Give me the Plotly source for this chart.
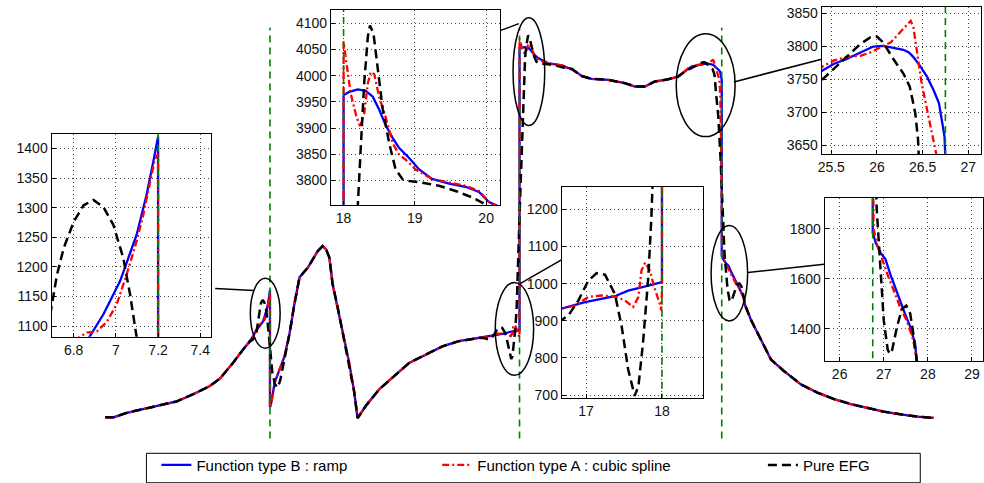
import plotly.graph_objects as go

# ---------------- data ----------------
interfaces = [7.2, 18.0, 26.75]

# shared parts of the curve (all three methods coincide)
common0_x = [0.07, 0.43, 1.0, 1.72, 2.44, 3.16, 3.88, 4.6, 5.03, 5.6, 6.03, 6.32]
common0_y = [86, 86, 132, 173, 207, 252, 328, 415, 491, 657, 795, 881]

after72a_x = [7.26, 7.4, 7.61, 7.83]
after72a_y = [240, 449, 588, 726]

after72b_x = [8.05, 8.26, 8.48, 8.84, 9.27, 9.48, 9.63, 9.77, 9.91, 10.13, 10.27, 10.63, 10.85, 10.99]
after72b_y = [968, 1279, 1556, 1659, 1832, 1884, 1849, 1763, 1486, 1244, 1071, 656, 345, 76]

common1_x = [11.35, 11.93, 12.5, 13.22, 13.94, 14.66, 15.37, 16.09]
common1_y = [207, 380, 501, 656, 743, 830, 885, 915]

plateau_x = [20.26, 20.69, 21.12, 21.84, 22.56, 22.99, 23.42, 23.85, 24.43, 24.86, 25.14]
plateau_y = [3745, 3670, 3640, 3630, 3595, 3560, 3560, 3612, 3636, 3664, 3716]

tail_x = [28.02, 28.45, 28.88, 29.45, 30.17, 30.89, 31.61, 32.33, 33.05, 33.76, 34.48, 35.2, 35.92]
tail_y = [1106, 899, 692, 570, 432, 345, 277, 225, 183, 145, 117, 93, 80]

# Function type B : ramp
blue1_x = [6.5, 6.61, 6.75, 6.875, 6.941, 7.02, 7.098, 7.145, 7.177, 7.196, 7.2, 7.2]
blue1_y = [950, 1003, 1045, 1082, 1120, 1176, 1254, 1321, 1377, 1417, 1420, 190]
blue2_x = [16.4, 16.68, 16.987, 17.38, 17.555, 17.73, 17.86, 17.983, 18.0, 18.0, 18.08, 18.2, 18.31,
           18.41, 18.5, 18.59, 18.69, 18.78, 18.92, 19.06, 19.24, 19.48, 19.71, 19.9, 20.04]
blue2_y = [925, 933, 950, 966, 981, 990, 997, 1003, 1004, 3963, 3969, 3974, 3971,
           3960, 3935, 3906, 3881, 3862, 3843, 3821, 3803, 3794, 3788, 3778, 3759]
blue3_x = [25.395, 25.53, 25.67, 25.82, 25.96, 26.07, 26.18, 26.29, 26.35, 26.4, 26.47, 26.55, 26.62,
           26.68, 26.71, 26.74, 26.75, 26.75, 26.82, 26.93, 27.04, 27.15, 27.26, 27.37, 27.48, 27.6,
           27.71, 27.75]
blue3_y = [3763, 3774, 3781, 3791, 3800, 3801, 3798, 3795, 3791, 3784, 3771, 3754, 3734,
           3714, 3689, 3664, 3630, 1783, 1743, 1704, 1678, 1618, 1566, 1507, 1461, 1408,
           1342, 1270]

# Function type A : cubic spline
red1_x = [6.5, 6.61, 6.75, 6.828, 6.863, 6.91, 6.957, 7.004, 7.051, 7.098, 7.13, 7.161, 7.185,
          7.195, 7.2, 7.2]
red1_y = [950, 1003, 1055, 1082, 1089, 1091, 1107, 1137, 1187, 1243, 1288, 1343, 1382,
          1388, 1390, 190]
red2_x = [16.4, 16.68, 16.856, 17.03, 17.205, 17.38, 17.51, 17.62, 17.69, 17.73, 17.78, 17.84, 17.9,
          17.97, 17.99, 18.0, 18.0, 18.03, 18.1, 18.18, 18.23, 18.29, 18.34, 18.38, 18.43, 18.5,
          18.59, 18.69, 18.78, 18.87, 19.01, 19.24, 19.48, 19.71, 19.9, 20.06]
red2_y = [925, 933, 941, 964, 968, 965, 955, 937, 964, 1035, 1057, 1035, 990,
          946, 928, 980, 4064, 4035, 3966, 3922, 3904, 3928, 3985, 4007, 4003, 3959,
          3921, 3871, 3849, 3840, 3821, 3803, 3796, 3790, 3780, 3756]
red3_x = [25.395, 25.53, 25.67, 25.82, 25.93, 26.04, 26.15, 26.25, 26.33, 26.37, 26.4, 26.44, 26.49,
          26.55, 26.6, 26.65, 26.69, 26.72, 26.74, 26.755, 26.77, 26.85, 27.0, 27.11, 27.26, 27.37,
          27.52, 27.67, 27.75]
red3_y = [3769, 3779, 3784, 3786, 3791, 3799, 3806, 3821, 3834, 3839, 3829, 3794, 3744,
          3704, 3669, 3637, 3450, 3000, 2300, 1900, 1800, 1737, 1658, 1605, 1539, 1487,
          1434, 1355, 1270]

# Pure EFG
black1_x = [6.45, 6.55, 6.62, 6.66, 6.695, 6.721, 6.753, 6.8, 6.847, 6.894, 6.941, 6.988, 7.035,
            7.067, 7.098, 7.15, 7.2, 7.3, 7.42, 7.54, 7.65, 7.78, 7.9]
black1_y = [900, 930, 985, 1050, 1132, 1187, 1232, 1276, 1304, 1313, 1301, 1271, 1215,
            1154, 1082, 960, 820, 560, 430, 397, 480, 640, 800]
black2_x = [16.3, 16.5, 16.68, 16.77, 16.9, 17.03, 17.14, 17.25, 17.38, 17.47, 17.555, 17.64, 17.69,
            17.75, 17.82, 17.86, 17.88, 18.0, 18.1, 18.2, 18.24, 18.29, 18.34, 18.37, 18.42, 18.48,
            18.55, 18.64, 18.73, 18.83, 18.92, 19.1, 19.34, 19.57, 19.8, 19.97, 20.1]
black2_y = [920, 915, 902, 915, 955, 1008, 1028, 1024, 972, 884, 769, 698, 724,
            840, 1017, 1176, 1265, 2200, 2975, 3753, 3860, 3987, 4074, 4096, 4080, 4017,
            3935, 3871, 3821, 3802, 3799, 3796, 3790, 3780, 3768, 3756, 3745]
black3_x = [25.395, 25.49, 25.6, 25.71, 25.82, 25.93, 26.0, 26.07, 26.18, 26.29, 26.36, 26.42, 26.45,
            26.5, 26.6, 26.7, 26.78, 26.84, 26.87, 26.93, 27.0, 27.09, 27.14, 27.19, 27.3, 27.41,
            27.51, 27.6, 27.67, 27.75]
black3_y = [3749, 3761, 3774, 3789, 3804, 3814, 3815, 3806, 3781, 3759, 3739, 3699, 3660,
            3500, 3250, 2800, 2250, 1880, 1803, 1632, 1434, 1316, 1300, 1316, 1408, 1480,
            1493, 1461, 1382, 1270]

blue_x = common0_x + blue1_x + after72a_x + after72b_x + common1_x + blue2_x + plateau_x + blue3_x + tail_x
blue_y = common0_y + blue1_y + after72a_y + after72b_y + common1_y + blue2_y + plateau_y + blue3_y + tail_y
red_x = common0_x + red1_x + after72a_x + after72b_x + common1_x + red2_x + plateau_x + red3_x + tail_x
red_y = common0_y + red1_y + after72a_y + after72b_y + common1_y + red2_y + plateau_y + red3_y + tail_y
black_x = common0_x + black1_x + after72b_x + common1_x + black2_x + plateau_x + black3_x + tail_x
black_y = common0_y + black1_y + after72b_y + common1_y + black2_y + plateau_y + black3_y + tail_y

series_names = ["Function type B : ramp", "Function type A : cubic spline", "Pure EFG"]

# inset windows (x range, y range, x ticks, y ticks)
insets = [
    dict(xr=[6.695, 7.45], yr=[1082, 1425], xt=[6.8, 7, 7.2, 7.4], yt=[1100, 1150, 1200, 1250, 1300, 1350, 1400],
         dom_x=[47.7, 207.7], dom_y=[134.3, 340]),
    dict(xr=[17.823, 20.19], yr=[3753, 4125], xt=[18, 19, 20], yt=[3800, 3850, 3900, 3950, 4000, 4050, 4100],
         dom_x=[328.3, 497.7], dom_y=[9.3, 206.7]),
    dict(xr=[16.68, 18.546], yr=[693, 1260], xt=[17, 18], yt=[700, 800, 900, 1000, 1100, 1200],
         dom_x=[560, 702.3], dom_y=[188.3, 401.7]),
    dict(xr=[25.395, 27.14], yr=[3637, 3860], xt=[25.5, 26, 26.5, 27], yt=[3650, 3700, 3750, 3800, 3850],
         dom_x=[821, 981], dom_y=[6, 155]),
    dict(xr=[25.66, 29.25], yr=[1270, 1924], xt=[26, 27, 28, 29], yt=[1400, 1600, 1800],
         dom_x=[824, 983], dom_y=[199.3, 365]),
]

W, H = 984, 483
MAIN_X = [-4.31, 38.10]
MAIN_Y = [-552, 4458]
GREEN_SPAN = [-137, 4178]

FONT = "Liberation Sans, Arial, sans-serif"
BLUE, RED, BLACK, GREEN = "#0000ff", "#ff0000", "#000000", "#008000"

fig = go.Figure()

styles = [
    (blue_x, blue_y, dict(color=BLUE, width=2.3), "legend"),
    (red_x, red_y, dict(color=RED, width=2.3, dash="7px,3px,2px,3px"), "legend2"),
    (black_x, black_y, dict(color=BLACK, width=2.5, dash="9px,5px"), "legend3"),
]


def add_set(xa, ya, main=False):
    for i, (sx, sy, ln, lg) in enumerate(styles):
        fig.add_trace(go.Scatter(x=sx, y=sy, mode="lines", line=ln, name=series_names[i],
                                 xaxis=xa, yaxis=ya, showlegend=main, legend=lg,
                                 hoverinfo="skip"))
    for xi in interfaces:
        span = GREEN_SPAN if main else [-1e5, 1e5]
        fig.add_trace(go.Scatter(x=[xi, xi], y=span, mode="lines",
                                 line=dict(color=GREEN, width=1.6, dash="7px,5px"),
                                 xaxis=xa, yaxis=ya, showlegend=False, hoverinfo="skip"))


add_set("x", "y", main=True)

layout = dict(
    width=W, height=H, margin=dict(l=0, r=0, t=0, b=0),
    paper_bgcolor="white", plot_bgcolor="white",
    font=dict(family=FONT, size=14, color="black"),
    xaxis=dict(domain=[0, 1], range=MAIN_X, visible=False),
    yaxis=dict(domain=[0, 1], range=MAIN_Y, visible=False),
)

for k, ins in enumerate(insets):
    n = k + 2
    add_set(f"x{n}", f"y{n}")
    ax_common = dict(showline=True, linecolor="black", linewidth=1, mirror=True,
                     showgrid=True, gridcolor="#444", griddash="1px,3px", gridwidth=1,
                     zeroline=False, ticks="inside", ticklen=4, tickcolor="black",
                     tickfont=dict(family=FONT, size=14, color="#111"))
    layout[f"xaxis{n}"] = dict(domain=[ins["dom_x"][0] / W, ins["dom_x"][1] / W], range=ins["xr"],
                               tickvals=ins["xt"], anchor=f"y{n}", **ax_common)
    layout[f"yaxis{n}"] = dict(domain=[1 - ins["dom_y"][1] / H, 1 - ins["dom_y"][0] / H], range=ins["yr"],
                               tickvals=ins["yt"], anchor=f"x{n}", **ax_common)

fig.update_layout(**layout)

# ellipses marking the zoomed regions and their connectors (main data coords)
ellipses = [(6.35, 7.64, 810, 1547), (17.72, 19.09, 3150, 4282), (16.95, 18.61, 527, 1502),
            (24.78, 27.33, 3034, 4113), (26.29, 27.87, 1098, 2101)]
connectors = [(4.83, 1439, 6.51, 1418), (17.16, 4147, 17.97, 4220), (17.97, 1481, 19.83, 1741),
              (27.28, 3608, 31.07, 3847), (27.88, 1606, 31.18, 1693)]
for (x0, x1, y0, y1) in ellipses:
    fig.add_shape(type="circle", xref="x", yref="y", x0=x0, x1=x1, y0=y0, y1=y1,
                  line=dict(color="black", width=1.5), layer="above")
for (x0, y0, x1, y1) in connectors:
    fig.add_shape(type="line", xref="x", yref="y", x0=x0, y0=y0, x1=x1, y1=y1,
                  line=dict(color="black", width=1.5), layer="above")

# legend box
fig.add_shape(type="rect", xref="paper", yref="paper", x0=143 / W, x1=920 / W, y0=-0.01, y1=1 - 458 / H,
              line=dict(color="black", width=1), fillcolor="white", layer="below")
leg_common = dict(orientation="h", yanchor="middle", y=1 - 470 / H, xanchor="left",
                  bgcolor="rgba(0,0,0,0)", borderwidth=0,
                  font=dict(family=FONT, size=15, color="black"))
fig.update_layout(
    legend=dict(x=153 / W, **leg_common),
    legend2=dict(x=435 / W, **leg_common),
    legend3=dict(x=762 / W, **leg_common),
)

fig.write_html("out.html")
